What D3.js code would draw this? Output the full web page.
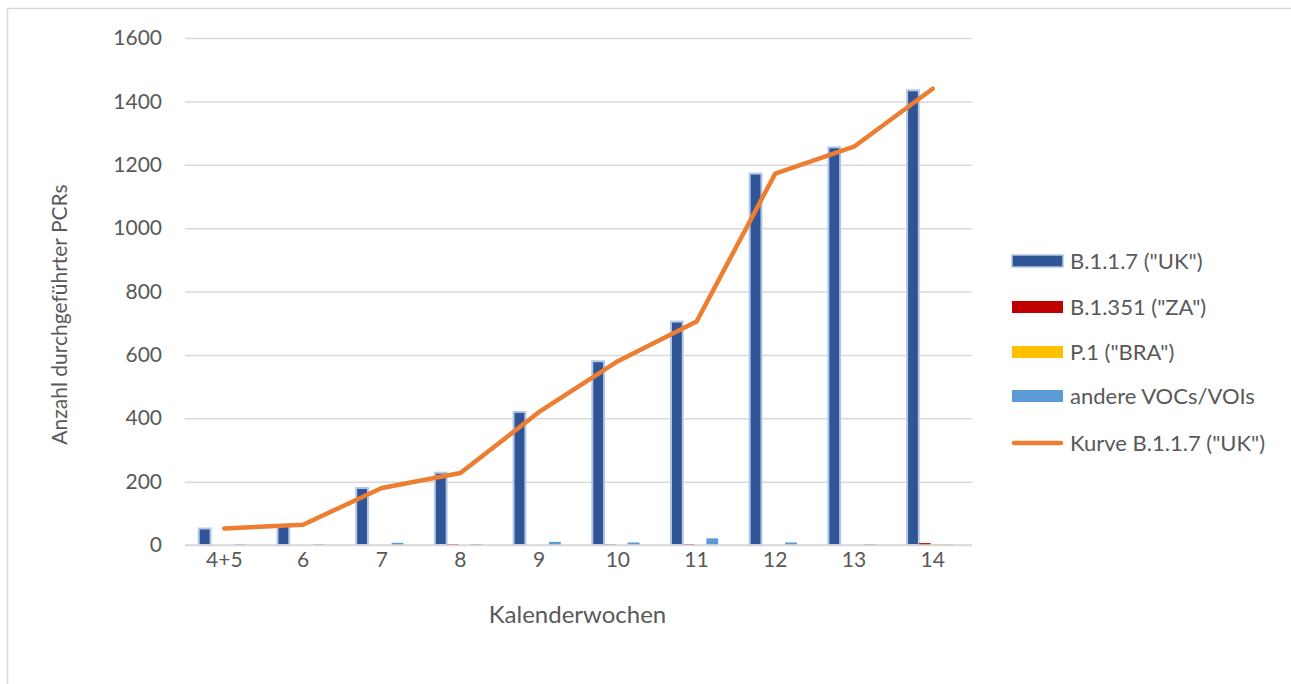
<!DOCTYPE html>
<html>
<head>
<meta charset="utf-8">
<script src="https://cdn.jsdelivr.net/npm/d3@7"></script>
<style>
  html, body { margin: 0; padding: 0; background: #ffffff; }
  svg { display: block; }
  text { font-family: Lato, "Open Sans", sans-serif; fill: #595959; }
</style>
</head>
<body>
<svg id="chart" width="1291" height="684"></svg>
<script>
// Calendar weeks (KW)
const weeks = ["4+5", "6", "7", "8", "9", "10", "11", "12", "13", "14"];

// Number of PCR tests per variant
const ukValues    = [52, 62, 180, 228, 420, 580, 705, 1172, 1255, 1435];
const zaValues    = [0, 0, 0, 3, 0, 2, 3, 0, 0, 6];
const braValues   = [0, 0, 0, 0, 0, 0, 0, 0, 0, 2];
const otherValues = [3, 3, 7, 3, 10, 8, 21, 8, 3, 2];

// Trend line for B.1.1.7
const ukCurve = [52, 64, 180, 227, 420, 580, 705, 1172, 1257, 1440];

const yTicks = [0, 200, 400, 600, 800, 1000, 1200, 1400, 1600];

const seriesNames = ['B.1.1.7 ("UK")', 'B.1.351 ("ZA")', 'P.1 ("BRA")', 'andere VOCs/VOIs'];
const seriesColors = ["#2f5597", "#c00000", "#ffc000", "#5b9bd5"];
const curveName = 'Kurve B.1.1.7 ("UK")';
const curveColor = "#ed7d31";

const svg = d3.select("#chart");

// outer chart frame (right and bottom edges fall outside the view)
svg.append("rect")
  .attr("x", 7.5).attr("y", 8.5)
  .attr("width", 1400).attr("height", 800)
  .attr("fill", "none").attr("stroke", "#d9d9d9").attr("stroke-width", 1.5);

const plot = { left: 185, right: 972, top: 38, bottom: 545 };

const x = d3.scaleBand().domain(weeks).range([plot.left, plot.right]).paddingInner(0).paddingOuter(0);
const y = d3.scaleLinear().domain([0, 1600]).range([plot.bottom, plot.top]);

const bw = x.bandwidth();
const barW = bw * 0.15;
const groupInset = bw * 0.175;
const sub = d3.scaleBand().domain(d3.range(4)).range([groupInset, groupInset + 4 * barW]);

// horizontal gridlines
const grid = svg.append("g")
  .attr("transform", `translate(${plot.left},0)`)
  .call(d3.axisLeft(y).tickValues(yTicks).tickSize(-(plot.right - plot.left)).tickFormat(""));
grid.select(".domain").remove();
grid.selectAll(".tick line").attr("stroke", "#d9d9d9").attr("stroke-width", 1.5);

// y tick labels
const yAxis = svg.append("g")
  .attr("transform", `translate(${plot.left - 23},0)`)
  .call(d3.axisLeft(y).tickValues(yTicks).tickSize(0).tickPadding(0).tickFormat(d3.format("d")));
yAxis.select(".domain").remove();
yAxis.selectAll("text")
  .style("font-family", "Lato, sans-serif").attr("font-size", 21).attr("fill", "#595959");

// bars
const allSeries = [ukValues, zaValues, braValues, otherValues];
allSeries.forEach((vals, si) => {
  svg.append("g").selectAll("rect")
    .data(vals)
    .join("rect")
    .attr("x", (d, i) => x(weeks[i]) + sub(si))
    .attr("y", d => y(d))
    .attr("width", barW)
    .attr("height", d => y(0) - y(d))
    .attr("fill", seriesColors[si])
    .attr("stroke", si === 0 ? "#b4c7e7" : "none")
    .attr("stroke-width", si === 0 ? 2 : 0);
});

// x axis line
svg.append("line")
  .attr("x1", plot.left).attr("x2", plot.right)
  .attr("y1", y(0)).attr("y2", y(0))
  .attr("stroke", "#d9d9d9").attr("stroke-width", 1.5);

// x tick labels
const xAxis = svg.append("g")
  .attr("transform", `translate(0,${plot.bottom + 7})`)
  .call(d3.axisBottom(x).tickSize(0).tickPadding(0));
xAxis.select(".domain").remove();
xAxis.selectAll("text")
  .style("font-family", "Lato, sans-serif").attr("font-size", 21).attr("fill", "#595959");

// B.1.1.7 curve through the week centres
const line = d3.line()
  .x((d, i) => x(weeks[i]) + bw / 2)
  .y(d => y(d));
svg.append("path")
  .datum(ukCurve)
  .attr("d", line)
  .attr("fill", "none")
  .attr("stroke", curveColor)
  .attr("stroke-width", 4.5)
  .attr("stroke-linejoin", "round")
  .attr("stroke-linecap", "round");

// axis titles
svg.append("text")
  .attr("x", (plot.left + plot.right) / 2 - 1).attr("y", 623)
  .attr("text-anchor", "middle").attr("font-size", 24)
  .text("Kalenderwochen");

svg.append("text")
  .attr("transform", `translate(67,${(plot.top + plot.bottom) / 2 + 23}) rotate(-90)`)
  .attr("text-anchor", "middle").attr("font-size", 21)
  .text("Anzahl durchgeführter PCRs");

// legend
const legend = svg.append("g").attr("transform", "translate(1012,0)");
const legendRows = [261, 307, 352, 396, 443];
seriesNames.forEach((name, i) => {
  const g = legend.append("g").attr("transform", `translate(0,${legendRows[i]})`);
  g.append("rect")
    .attr("x", 0).attr("y", -6).attr("width", 51).attr("height", 12)
    .attr("fill", seriesColors[i])
    .attr("stroke", i === 0 ? "#b4c7e7" : "none").attr("stroke-width", 1.5);
  g.append("text").attr("x", 58).attr("y", 0).attr("dy", "0.36em")
    .attr("font-size", 22).text(name);
});
{
  const g = legend.append("g").attr("transform", `translate(0,${legendRows[4]})`);
  g.append("line").attr("x1", 2).attr("x2", 49).attr("y1", 0).attr("y2", 0)
    .attr("stroke", curveColor).attr("stroke-width", 4.5).attr("stroke-linecap", "round");
  g.append("text").attr("x", 58).attr("y", 0).attr("dy", "0.36em")
    .attr("font-size", 22).text(curveName);
}
</script>
</body>
</html>
